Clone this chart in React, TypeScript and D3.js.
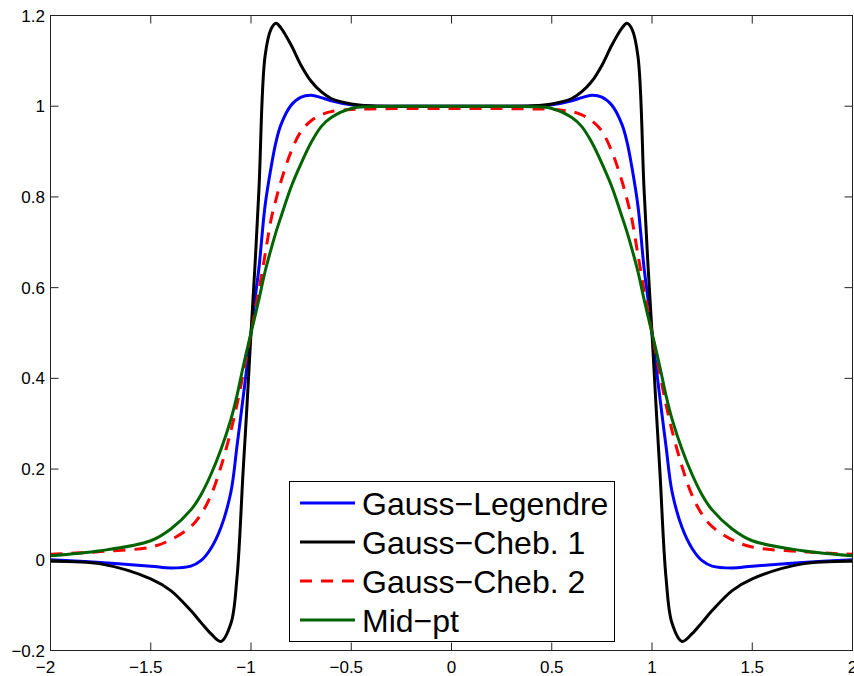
import React from "react";
import * as d3 from "d3";

const xValues = [
  -2, -1.75, -1.5, -1.4, -1.3, -1.25, -1.2, -1.15, -1.1, -1.07, -1.04, -1.02, -1, -0.98, -0.96, -0.93, -0.9, -0.875, -0.85, -0.8, -0.75, -0.7, -0.65, -0.6, -0.5, -0.4, -0.2,
  0,
  0.2, 0.4, 0.5, 0.6, 0.65, 0.7, 0.75, 0.8, 0.85, 0.875, 0.9, 0.93, 0.96, 0.98, 1, 1.02, 1.04, 1.07, 1.1, 1.15, 1.2, 1.25, 1.3, 1.4, 1.5, 1.75, 2,
];

const gaussLegendre = [
  0.0, -0.006, -0.014, -0.018, -0.014, -0.002, 0.025, 0.071, 0.15, 0.25, 0.355, 0.427, 0.5, 0.575, 0.645, 0.78, 0.865, 0.922, 0.96, 1.002, 1.02, 1.024, 1.019, 1.012, 1.003, 1.0, 1.0,
  1.0,
  1.0, 1.0, 1.003, 1.012, 1.019, 1.024, 1.02, 1.002, 0.96, 0.922, 0.865, 0.78, 0.645, 0.575, 0.5, 0.427, 0.355, 0.25, 0.15, 0.071, 0.025, -0.002, -0.014, -0.018, -0.014, -0.006, 0.0,
];

const gaussCheb1 = [
  -0.003, -0.009, -0.042, -0.068, -0.112, -0.138, -0.163, -0.18, -0.14, -0.04, 0.19, 0.34, 0.5, 0.65, 0.82, 1.11, 1.17, 1.183, 1.172, 1.135, 1.09, 1.055, 1.032, 1.017, 1.005, 1.001, 1.0,
  1.0,
  1.0, 1.001, 1.005, 1.017, 1.032, 1.055, 1.09, 1.135, 1.172, 1.183, 1.17, 1.11, 0.82, 0.65, 0.5, 0.34, 0.19, -0.04, -0.14, -0.18, -0.163, -0.138, -0.112, -0.068, -0.042, -0.009, -0.003,
];

const gaussCheb2 = [
  0.012, 0.018, 0.028, 0.044, 0.073, 0.1, 0.142, 0.205, 0.285, 0.342, 0.408, 0.454, 0.5, 0.548, 0.596, 0.672, 0.75, 0.795, 0.835, 0.9, 0.945, 0.968, 0.981, 0.988, 0.993, 0.994, 0.995,
  0.995,
  0.995, 0.994, 0.993, 0.988, 0.981, 0.968, 0.945, 0.9, 0.835, 0.795, 0.75, 0.672, 0.596, 0.548, 0.5, 0.454, 0.408, 0.342, 0.285, 0.205, 0.142, 0.1, 0.073, 0.044, 0.028, 0.018, 0.012,
];

const midPt = [
  0.009, 0.02, 0.042, 0.068, 0.11, 0.143, 0.188, 0.243, 0.31, 0.362, 0.424, 0.463, 0.5, 0.537, 0.575, 0.635, 0.685, 0.723, 0.757, 0.822, 0.874, 0.92, 0.955, 0.975, 0.995, 0.999, 1.0,
  1.0,
  1.0, 0.999, 0.995, 0.975, 0.955, 0.92, 0.874, 0.822, 0.757, 0.723, 0.685, 0.635, 0.575, 0.537, 0.5, 0.463, 0.424, 0.362, 0.31, 0.243, 0.188, 0.143, 0.11, 0.068, 0.042, 0.02, 0.009,
];

const seriesNames = ["Gauss\u2212Legendre", "Gauss\u2212Cheb. 1", "Gauss\u2212Cheb. 2", "Mid\u2212pt"];
const seriesColors = ["#0000ff", "#000000", "#ff0000", "#006400"];
const seriesDash = [null, null, "12,9", null];
const seriesData = [gaussLegendre, gaussCheb1, gaussCheb2, midPt];

const xTicks = [-2, -1.5, -1, -0.5, 0, 0.5, 1, 1.5, 2];
const yTicks = [-0.2, 0, 0.2, 0.4, 0.6, 0.8, 1, 1.2];

const W = 854;
const H = 676;
const L = 50.5;
const R = 852.5;
const T = 15.5;
const B = 650.5;
const FONT = "'Liberation Sans', Arial, Helvetica, sans-serif";

function fmt(v: number) {
  return String(Math.abs(Math.round(v * 10) / 10));
}

export default function App() {
  const x = d3.scaleLinear().domain([-2, 2]).range([L, R]);
  const y = d3.scaleLinear().domain([-0.2, 1.2]).range([B, T]);
  const line = d3
    .line<[number, number]>()
    .x((d) => x(d[0]))
    .y((d) => y(d[1]))
    .curve(d3.curveCatmullRom.alpha(0.5));

  const tickLen = 8;
  const fs = 17;
  const minusW = 0.584 * fs;

  const legX = 289.5;
  const legY = 481.5;
  const legW = 325;
  const legH = 160;
  const rowY = (i: number) => 503 + i * 39;

  return (
    <svg
      width={W}
      height={H}
      style={{ position: "absolute", left: 0, top: 0, background: "#fff" }}
      fontFamily={FONT}
    >
      <rect x={0} y={0} width={W} height={H} fill="#fff" />
      <defs>
        <clipPath id="plotclip">
          <rect x={L} y={T} width={R - L} height={B - T} />
        </clipPath>
      </defs>
      <g clipPath="url(#plotclip)">
        {seriesData.map((vals, i) => (
          <path
            key={i}
            d={line(xValues.map((xv, j) => [xv, vals[j]] as [number, number])) || ""}
            fill="none"
            stroke={seriesColors[i]}
            strokeWidth={3}
            strokeDasharray={seriesDash[i] || undefined}
            strokeLinejoin="round"
          />
        ))}
      </g>
      <rect x={L} y={T} width={R - L} height={B - T} fill="none" stroke="#222" strokeWidth={1} />
      {xTicks.map((t) => (
        <g key={"xt" + t}>
          <line x1={x(t)} x2={x(t)} y1={B} y2={B - tickLen} stroke="#222" />
          <line x1={x(t)} x2={x(t)} y1={T} y2={T + tickLen} stroke="#222" />
          <text
            x={t < 0 ? x(t) - minusW / 2 : x(t)}
            y={673}
            textAnchor="middle"
            fontSize={fs}
            fill="#000"
          >
            {(t < 0 ? "\u2212" : "") + fmt(t)}
          </text>
        </g>
      ))}
      {yTicks.map((t) => (
        <g key={"yt" + t}>
          <line x1={L} x2={L + tickLen} y1={y(t)} y2={y(t)} stroke="#222" />
          <line x1={R} x2={R - tickLen} y1={y(t)} y2={y(t)} stroke="#222" />
          <text x={45} y={y(t) + 6} textAnchor="end" fontSize={fs} fill="#000">
            {(t < 0 ? "\u2212" : "") + fmt(t)}
          </text>
        </g>
      ))}
      <rect x={legX} y={legY} width={legW} height={legH} fill="#fff" stroke="#000" strokeWidth={1} />
      {seriesNames.map((name, i) => (
        <g key={"lg" + i}>
          <line
            x1={300}
            x2={355}
            y1={rowY(i)}
            y2={rowY(i)}
            stroke={seriesColors[i]}
            strokeWidth={3}
            strokeDasharray={seriesDash[i] || undefined}
          />
          <text x={362} y={rowY(i) + 11.5} fontSize={32} fill="#000">
            {name}
          </text>
        </g>
      ))}
    </svg>
  );
}
